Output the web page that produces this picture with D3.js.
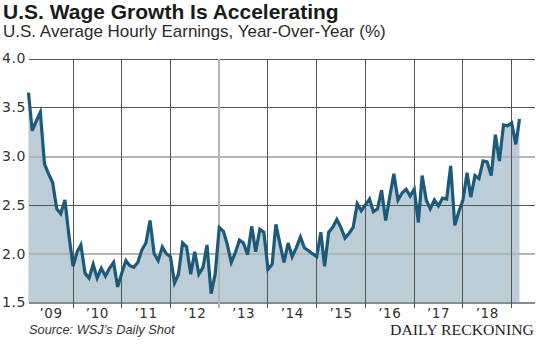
<!DOCTYPE html>
<html>
<head>
<meta charset="utf-8">
<script src="https://cdn.jsdelivr.net/npm/d3@7"></script>
<style>
  body { margin: 0; background: #fff; }
  svg { display: block; }
  .tick text { font-family: "DejaVu Sans", sans-serif; font-size: 14px; fill: #333; letter-spacing: 0.6px; }
  .year-label { font-family: "DejaVu Sans", sans-serif; font-size: 13.5px; fill: #333; letter-spacing: 0.6px; }
</style>
</head>
<body>
<svg id="chart" width="540" height="344"></svg>
<script>
// Average hourly earnings, % change from a year earlier, one value per month from Feb 2009
const firstMonth = new Date(2009, 1, 1);
const earnings = [
  // 2009 (Feb-Dec)
  3.65, 3.26, 3.36, 3.45, 2.92, 2.82, 2.73, 2.46, 2.41, 2.55, 2.19,
  // 2010
  1.87, 2.02, 2.09, 1.80, 1.75, 1.89, 1.75, 1.85, 1.77, 1.85, 1.91, 1.66,
  // 2011
  1.80, 1.93, 1.88, 1.86, 1.91, 2.04, 2.11, 2.34, 2.00, 1.93, 2.07, 2.00,
  // 2012
  1.97, 1.70, 1.79, 2.11, 2.07, 1.79, 2.02, 1.79, 1.86, 2.09, 1.59, 1.79,
  // 2013
  2.27, 2.23, 2.10, 1.91, 2.01, 2.14, 2.11, 1.99, 2.28, 2.02, 2.25, 2.22,
  // 2014
  1.84, 1.89, 2.30, 2.10, 1.91, 2.11, 1.97, 2.06, 2.17, 2.06, 2.03, 2.00,
  // 2015
  1.97, 2.22, 1.87, 2.22, 2.27, 2.35, 2.27, 2.16, 2.21, 2.27, 2.51, 2.44,
  // 2016
  2.50, 2.56, 2.43, 2.46, 2.65, 2.34, 2.58, 2.82, 2.55, 2.62, 2.66, 2.59,
  // 2017
  2.66, 2.32, 2.80, 2.55, 2.46, 2.55, 2.49, 2.57, 2.56, 2.90, 2.29, 2.43,
  // 2018
  2.55, 2.83, 2.58, 2.80, 2.77, 2.95, 2.94, 2.80, 3.22, 2.95, 3.32, 3.31,
  // 2019 (Jan-Mar)
  3.34, 3.12, 3.38
];

const yTicks = [1.5, 2.0, 2.5, 3.0, 3.5, 4.0];
const softYTicks = [2.0, 3.0];
const gridYears = [2010, 2011, 2012, 2013, 2014, 2015, 2016, 2017, 2018, 2019];
const softYears = [2013];
const labelYears = [2009, 2010, 2011, 2012, 2013, 2014, 2015, 2016, 2017, 2018];
const yearLabels = ["\u201909", "\u201910", "\u201911", "\u201912", "\u201913", "\u201914", "\u201915", "\u201916", "\u201917", "\u201918"];

const title = "U.S. Wage Growth Is Accelerating";
const subtitle = "U.S. Average Hourly Earnings, Year-Over-Year (%)";
const source = "Source: WSJ\u2019s Daily Shot";
const brand = "DAILY RECKONING";

const data = earnings.map((v, i) => ({ date: d3.timeMonth.offset(firstMonth, i), value: v }));

const svg = d3.select("#chart");
const plot = { left: 29, right: 535, top: 58.5, bottom: 302.5 };

const x = d3.scaleTime()
  .domain([new Date(2009, 1, 5), new Date(2019, 5, 25)])
  .range([plot.left, plot.right]);

const y = d3.scaleLinear()
  .domain([1.5, 4.0])
  .range([plot.bottom, plot.top]);

// titles
svg.append("text")
  .attr("x", 3).attr("y", 19)
  .style("font-family", "'Liberation Sans', Arial, sans-serif")
  .style("font-weight", "bold")
  .style("font-size", "21px")
  .style("fill", "#1a1a1a")
  .text(title);

svg.append("text")
  .attr("x", 3).attr("y", 37)
  .style("font-family", "'Liberation Sans', Arial, sans-serif")
  .style("font-size", "17px")
  .style("fill", "#2b2b2b")
  .text(subtitle);

// shaded area under the series
const area = d3.area()
  .x(d => x(d.date))
  .y0(y(1.5))
  .y1(d => y(d.value));

svg.append("path")
  .datum(data)
  .attr("fill", "#bccdd8")
  .attr("d", area);

// horizontal grid + y labels
const yAxis = svg.append("g")
  .attr("transform", `translate(${plot.left},0)`)
  .call(d3.axisLeft(y)
    .tickValues(yTicks)
    .tickSize(-(plot.right - plot.left))
    .tickPadding(3)
    .tickFormat(d3.format(".1f")));

yAxis.select(".domain").remove();
yAxis.selectAll(".tick line")
  .attr("stroke", d => softYTicks.includes(d) ? "#b5b5b5" : (d === 1.5 ? "#8a8a8a" : "#555"))
  .attr("stroke-width", d => softYTicks.includes(d) || d === 1.5 ? 2 : 1)
  .attr("shape-rendering", "crispEdges");

// vertical year lines, running a little below the base line
svg.append("g")
  .selectAll("line")
  .data(gridYears)
  .join("line")
  .attr("x1", d => x(new Date(d, 0, 1)))
  .attr("x2", d => x(new Date(d, 0, 1)))
  .attr("y1", y(4.0))
  .attr("y2", y(1.5) + 5)
  .attr("stroke", d => softYears.includes(d) ? "#b5b5b5" : "#555")
  .attr("stroke-width", d => softYears.includes(d) ? 2 : 1)
  .attr("shape-rendering", "crispEdges");

// year labels centred in each year's span
svg.append("g")
  .selectAll("text")
  .data(labelYears)
  .join("text")
  .attr("class", "year-label")
  .attr("x", d => {
    const a = Math.max(x(new Date(d, 0, 1)), plot.left);
    const b = x(new Date(d + 1, 0, 1));
    return (a + b) / 2;
  })
  .attr("y", 318)
  .attr("text-anchor", "middle")
  .text((d, i) => yearLabels[i]);

// the series line
const line = d3.line()
  .x(d => x(d.date))
  .y(d => y(d.value));

svg.append("path")
  .datum(data)
  .attr("fill", "none")
  .attr("stroke", "#1b5a7b")
  .attr("stroke-width", 3.2)
  .attr("stroke-linejoin", "miter")
  .attr("d", line);

// footer
svg.append("text")
  .attr("x", 29).attr("y", 334)
  .style("font-family", "'Liberation Sans', Arial, sans-serif")
  .style("font-style", "italic")
  .style("font-size", "12.8px")
  .style("fill", "#333")
  .text(source);

svg.append("text")
  .attr("x", 534).attr("y", 335)
  .attr("text-anchor", "end")
  .attr("textLength", 144)
  .attr("lengthAdjust", "spacingAndGlyphs")
  .style("font-family", "'Liberation Serif', 'Times New Roman', serif")
  .style("font-size", "15px")
  .style("fill", "#222")
  .text(brand);
</script>
</body>
</html>
